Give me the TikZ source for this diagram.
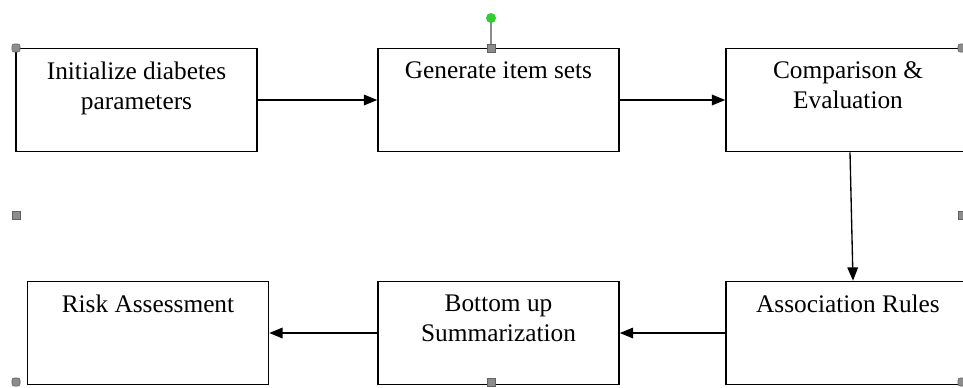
\documentclass[tikz,border=0pt]{standalone}
\usepackage{fontspec}
\setmainfont{Liberation Serif}
\usetikzlibrary{arrows.meta}
\definecolor{handlegray}{HTML}{8C8C8C}
\definecolor{handlegreen}{HTML}{33CC33}
\tikzset{
  stage/.style={draw, line width=1.2pt, minimum width=180.75pt, minimum height=77.25pt, inner sep=0pt},
  widestage/.style={stage, minimum width=183pt},
  stagetext/.style={anchor=north, yshift=-10.5pt, align=center, inner sep=0pt, font=\fontsize{19}{22.5}\selectfont},
  flow/.style={line width=1pt, -{Triangle[length=10pt,width=8pt]}},
  handle/.style={fill=handlegray, draw=handlegray!70!black, line width=0.4pt}
}
\begin{document}
\begin{tikzpicture}[x=0.75pt,y=-0.75pt]
  \useasboundingbox (0,0) rectangle (963,387);
  % top row
  \node[stage,label={[stagetext]north:{Initialize diabetes\\parameters}}] (init) at (136.5,100) {};
  \node[stage,label={[stagetext]north:{Generate item sets}}] (gen) at (498.5,100) {};
  \node[widestage,label={[stagetext]north:{Comparison \&\\Evaluation}}] (comp) at (848,100) {};
  % bottom row
  \node[stage,label={[stagetext]north:{Risk Assessment}}] (risk) at (148,333) {};
  \node[stage,label={[stagetext]north:{Bottom up\\Summarization}}] (bottom) at (498.5,333) {};
  \node[widestage,label={[stagetext]north:{Association Rules}}] (assoc) at (848,333) {};

  \draw[flow] (init) -- (gen);
  \draw[flow] (gen) -- (comp);
  \draw[flow] ([xshift=1.5pt]comp.south) -- ([xshift=3.75pt]assoc.north);
  \draw[flow] (assoc) -- (bottom);
  \draw[flow] (bottom) -- (risk);

  % selection handles
  \draw[handlegray, line width=1pt] (491,18) -- (491,48);
  \fill[handlegreen] (491,18) circle (5);
  \foreach \hx/\hy in {16/48, 962/48, 16/382, 962/382}
    \filldraw[handle, rounded corners=1.5pt] (\hx-4,\hy-4) rectangle (\hx+4,\hy+4);
  \foreach \hx/\hy in {491/48, 16/215, 962/215, 491/382}
    \filldraw[handle] (\hx-4,\hy-4) rectangle (\hx+4,\hy+4);
\end{tikzpicture}
\end{document}
